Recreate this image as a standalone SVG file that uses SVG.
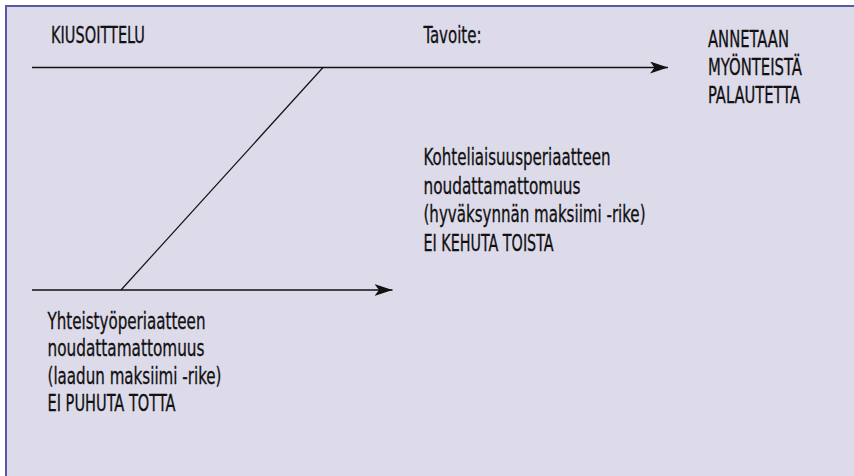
<svg xmlns="http://www.w3.org/2000/svg" width="854" height="476" viewBox="0 0 854 476">
<style>
  .t { font-family: "Liberation Sans Narrow", "DejaVu Sans Condensed", "Liberation Sans", sans-serif; font-size: 23px; fill: #111111; stroke: #111111; stroke-width: 0.3; }
  .ln { stroke: #111111; stroke-width: 1.7; fill: none; }
  .diag { stroke: #111111; stroke-width: 1.2; fill: none; }
</style>
<defs>
  <marker id="ah" markerUnits="userSpaceOnUse" markerWidth="20" markerHeight="14" refX="18" refY="6" orient="auto">
    <path d="M0,0 L18,6 L0,12 L4.5,6 Z" fill="#111111"/>
  </marker>
</defs>
<rect x="6" y="6" width="900" height="520" fill="#dddaea" stroke="#5858a8" stroke-width="2"/>
<g id="connectors">
  <line class="ln" x1="32" y1="67.5" x2="668" y2="67.5" marker-end="url(#ah)"/>
  <line class="ln" x1="32" y1="290" x2="392.5" y2="290" marker-end="url(#ah)"/>
  <line class="diag" x1="121" y1="290" x2="323" y2="67.5"/>
</g>
<g id="kiusoittelu">
  <text class="t" x="51" y="43" textLength="94" lengthAdjust="spacingAndGlyphs">KIUSOITTELU</text>
</g>
<g id="tavoite">
  <text class="t" x="423.5" y="43" textLength="58" lengthAdjust="spacingAndGlyphs">Tavoite:</text>
</g>
<g id="annetaan">
  <text class="t" x="708" y="46.5" textLength="81" lengthAdjust="spacingAndGlyphs">ANNETAAN</text>
  <text class="t" x="708" y="74.5" textLength="94" lengthAdjust="spacingAndGlyphs">MYÖNTEISTÄ</text>
  <text class="t" x="708" y="102.5" textLength="92" lengthAdjust="spacingAndGlyphs">PALAUTETTA</text>
</g>
<g id="kohteliaisuus">
  <text class="t" x="423.5" y="165" textLength="187" lengthAdjust="spacingAndGlyphs">Kohteliaisuusperiaatteen</text>
  <text class="t" x="423.5" y="193.5" textLength="157" lengthAdjust="spacingAndGlyphs">noudattamattomuus</text>
  <text class="t" x="423.5" y="222" textLength="222" lengthAdjust="spacingAndGlyphs">(hyväksynnän maksiimi -rike)</text>
  <text class="t" x="423.5" y="250.5" textLength="130" lengthAdjust="spacingAndGlyphs">EI KEHUTA TOISTA</text>
</g>
<g id="yhteistyo">
  <text class="t" x="47.5" y="328.5" textLength="158" lengthAdjust="spacingAndGlyphs">Yhteistyöperiaatteen</text>
  <text class="t" x="47.5" y="356" textLength="157" lengthAdjust="spacingAndGlyphs">noudattamattomuus</text>
  <text class="t" x="47.5" y="383.5" textLength="174" lengthAdjust="spacingAndGlyphs">(laadun maksiimi -rike)</text>
  <text class="t" x="47.5" y="411" textLength="128" lengthAdjust="spacingAndGlyphs">EI PUHUTA TOTTA</text>
</g>
</svg>
